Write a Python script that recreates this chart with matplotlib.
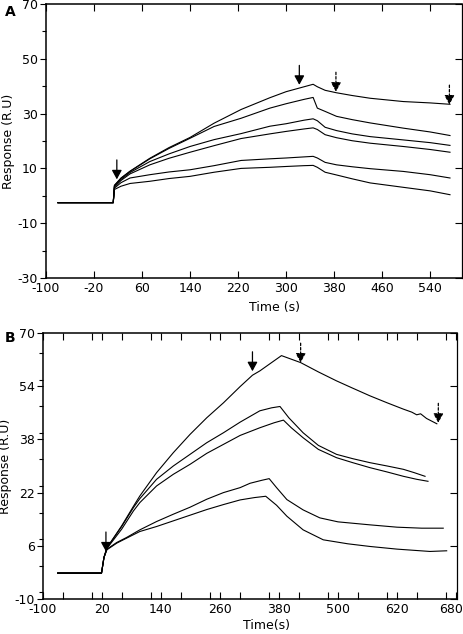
import matplotlib
matplotlib.use("Agg")
import matplotlib.pyplot as plt
from matplotlib.ticker import MultipleLocator
from matplotlib.transforms import ScaledTranslation

plt.rcParams['font.family'] = ['DejaVu Sans']
plt.rcParams['axes.unicode_minus'] = False

# ---------------- panel A data (time s, response R.U) ----------------
tA = [-80, 12, 14, 25, 40, 73, 105, 140, 180, 225, 273, 300, 330, 345, 352,
      365, 384, 410, 440, 495, 540, 573]
a1 = [-2.5, -2.5, 3.8, 6.5, 9.0, 13.7, 17.6, 21.3, 26.5, 31.5, 35.8, 38.0,
      39.8, 40.7, 39.8, 38.5, 37.6, 36.6, 35.6, 34.4, 33.9, 33.4]
a2 = [-2.5, -2.5, 3.8, 6.4, 8.9, 13.5, 17.3, 21.0, 25.3, 28.3, 32.0, 33.6,
      35.2, 35.9, 32.0, 30.8, 29.0, 27.8, 26.6, 24.7, 23.3, 22.0]
a3 = [-2.5, -2.5, 3.5, 6.0, 8.5, 12.5, 15.3, 18.0, 20.5, 22.7, 25.4, 26.3,
      27.6, 28.1, 27.4, 25.0, 23.8, 22.6, 21.6, 20.4, 19.4, 18.4]
a4 = [-2.5, -2.5, 3.2, 5.6, 8.0, 11.3, 13.7, 15.9, 18.3, 20.9, 22.6, 23.5,
      24.4, 24.8, 24.2, 22.3, 21.2, 20.1, 19.2, 18.0, 16.9, 15.9]
a5 = [-2.5, -2.5, 2.8, 4.8, 6.5, 7.7, 8.7, 9.5, 11.0, 12.9, 13.5, 13.8,
      14.2, 14.4, 13.8, 12.2, 11.3, 10.6, 9.9, 8.9, 7.7, 6.5]
a6 = [-2.5, -2.5, 2.3, 3.5, 4.5, 5.3, 6.3, 7.1, 8.6, 10.0, 10.4, 10.7,
      11.0, 11.1, 10.4, 8.6, 7.6, 6.2, 4.7, 3.1, 1.8, 0.4]

# arrows A: time, tip response, dashed or not
arrA_t = [18, 322, 383, 572]
arrA_y = [6.0, 40.5, 38.0, 33.3]
arrA_dash = [False, False, True, True]

# ---------------- panel B data ----------------
tb1 = [-70, 19, 24, 30, 60, 84, 97, 131, 165, 199, 233, 267, 301, 326, 341,
       362, 385, 424, 460, 497, 530, 565, 600, 633, 650, 660, 668, 680, 701]
b1 = [-2.2, -2.2, 2.5, 5.4, 12.0, 17.9, 21.0, 28.0, 34.0, 39.5, 44.5, 49.0,
      53.9, 57.3, 58.6, 60.8, 63.2, 61.1, 58.3, 55.6, 53.4, 51.1, 49.0, 47.1,
      46.2, 45.4, 45.7, 44.3, 42.7]
tb2 = [-70, 19, 24, 30, 60, 84, 97, 131, 165, 199, 233, 267, 301, 341, 365,
       382, 400, 429, 460, 497, 530, 565, 600, 633, 655, 677]
b2 = [-2.2, -2.2, 2.5, 5.4, 11.8, 17.5, 20.2, 26.0, 30.0, 33.5, 37.0, 40.0,
      43.2, 46.6, 47.5, 47.9, 44.5, 40.0, 36.2, 33.5, 32.2, 31.0, 30.0, 29.0,
      28.0, 26.9]
tb3 = [-70, 19, 24, 30, 60, 84, 97, 131, 165, 199, 233, 267, 301, 341, 370,
       389, 405, 429, 460, 497, 530, 565, 600, 633, 660, 683]
b3 = [-2.2, -2.2, 2.5, 5.2, 11.0, 16.5, 19.0, 24.0, 27.5, 30.5, 33.8, 36.5,
      39.2, 41.5, 43.0, 43.8, 41.5, 38.5, 35.0, 32.5, 31.0, 29.5, 28.2, 26.9,
      26.0, 25.4]
tb4 = [-70, 19, 24, 30, 50, 70, 97, 131, 165, 199, 233, 267, 301, 321, 345,
       360, 375, 396, 429, 463, 500, 565, 620, 670, 714]
b4 = [-2.2, -2.2, 2.5, 5.0, 7.0, 8.5, 10.8, 13.3, 15.5, 17.6, 20.0, 22.0,
      23.5, 24.8, 25.7, 26.2, 23.5, 19.9, 16.8, 14.4, 13.2, 12.3, 11.6, 11.3,
      11.3]
tb5 = [-70, 19, 24, 30, 50, 70, 97, 131, 165, 199, 233, 267, 301, 330, 353,
       375, 396, 429, 470, 520, 565, 620, 687, 721]
b5 = [-2.2, -2.2, 2.5, 4.8, 6.8, 8.3, 10.3, 11.8, 13.5, 15.2, 16.9, 18.4,
      19.8, 20.5, 20.9, 18.2, 14.9, 10.8, 7.8, 6.6, 5.8, 5.0, 4.3, 4.5]

arrB_t = [28, 326, 424, 704]
arrB_y = [4.3, 58.5, 61.1, 43.0]
arrB_dash = [False, False, True, True]

# tick labels (last B label printed "680" in the original figure)
xticksA = [-100, -20, 60, 140, 220, 300, 380, 460, 540]
yticksA = [-30, -10, 10, 30, 50, 70]
xticksB = [-100, 20, 140, 260, 380, 500, 620, 740]
xlabelsB = ["-100", "20", "140", "260", "380", "500", "620", "680"]
yticksB = [-10, 6, 22, 38, 54, 70]

W, H = 464, 634
fig = plt.figure(figsize=(W / 100, H / 100), dpi=100)
axA = fig.add_axes([46 / W, 1 - 278 / H, 416 / W, 274 / H])
axB = fig.add_axes([43 / W, 1 - 599 / H, 414 / W, 266 / H])


def arrows(ax, ts, ys, dashes):
    for t, y, d in zip(ts, ys, dashes):
        ax.annotate("", xy=(t, y), xytext=(0, 14), textcoords="offset points",
                    xycoords="data",
                    arrowprops=dict(arrowstyle="-|>,head_length=0.55,head_width=0.3",
                                    color="black", lw=0.9, shrinkA=0, shrinkB=0,
                                    linestyle=(0, (2, 1.5)) if d else "-"))


def style(ax, xt, xl, yt, ymin_step, xlim, ylim, xminor=None):
    ax.set_xlim(*xlim)
    ax.set_ylim(*ylim)
    ax.set_xticks(xt)
    ax.set_xticklabels(xl, fontsize=9)
    ax.set_yticks(yt)
    ax.set_yticklabels([str(v) for v in yt], fontsize=9)
    ax.yaxis.set_minor_locator(MultipleLocator(ymin_step))
    if xminor is not None:
        ax.xaxis.set_minor_locator(MultipleLocator(xminor))
    ax.tick_params(axis="y", which="major", direction="out", length=4, width=0.8, pad=2)
    ax.tick_params(axis="y", which="minor", direction="out", length=3, width=0.8)
    ax.tick_params(axis="x", which="both", direction="in", length=5, width=0.8,
                   top=True, pad=3)
    for s in ax.spines.values():
        s.set_linewidth(1.1)
    ax.spines["right"].set_linewidth(0.9)
    # right side ticks pointing inward
    sec = ax.secondary_yaxis("right")
    sec.set_yticks(yt)
    sec.tick_params(direction="in", length=5, width=0.8, labelright=False)
    sec.spines["right"].set_visible(False)


lw = 0.8
for y in [a1, a2, a3, a4, a5, a6]:
    axA.plot(tA, y, color="black", lw=lw)
arrows(axA, arrA_t, arrA_y, arrA_dash)
style(axA, xticksA, [str(v) for v in xticksA], yticksA, 10, (-100, 593), (-30, 70))
axA.set_ylabel("Response (R.U)", fontsize=9, labelpad=2)
axA.set_xlabel("Time (s)", fontsize=9)
axA.xaxis.set_label_coords(0.55, -0.085)

for t, y in [(tb1, b1), (tb2, b2), (tb3, b3), (tb4, b4), (tb5, b5)]:
    axB.plot(t, y, color="black", lw=lw)
arrows(axB, arrB_t, arrB_y, arrB_dash)
style(axB, xticksB, xlabelsB, yticksB, 8, (-100, 742), (-10, 70), xminor=60)
axB.set_ylabel("Response (R.U)", fontsize=9, labelpad=2)
axB.set_xlabel("Time(s)", fontsize=9)
axB.xaxis.set_label_coords(0.54, -0.075)
# keep the last label inside the figure
last = axB.get_xticklabels()[-1]
last.set_transform(last.get_transform() + ScaledTranslation(-5 / 100, 0, fig.dpi_scale_trans))

fig.text(5 / W, 1 - 12 / H, "A", fontsize=10, fontweight="bold", va="center")
fig.text(5 / W, 1 - 338 / H, "B", fontsize=10, fontweight="bold", va="center")

fig.savefig("out.png", dpi=100)
